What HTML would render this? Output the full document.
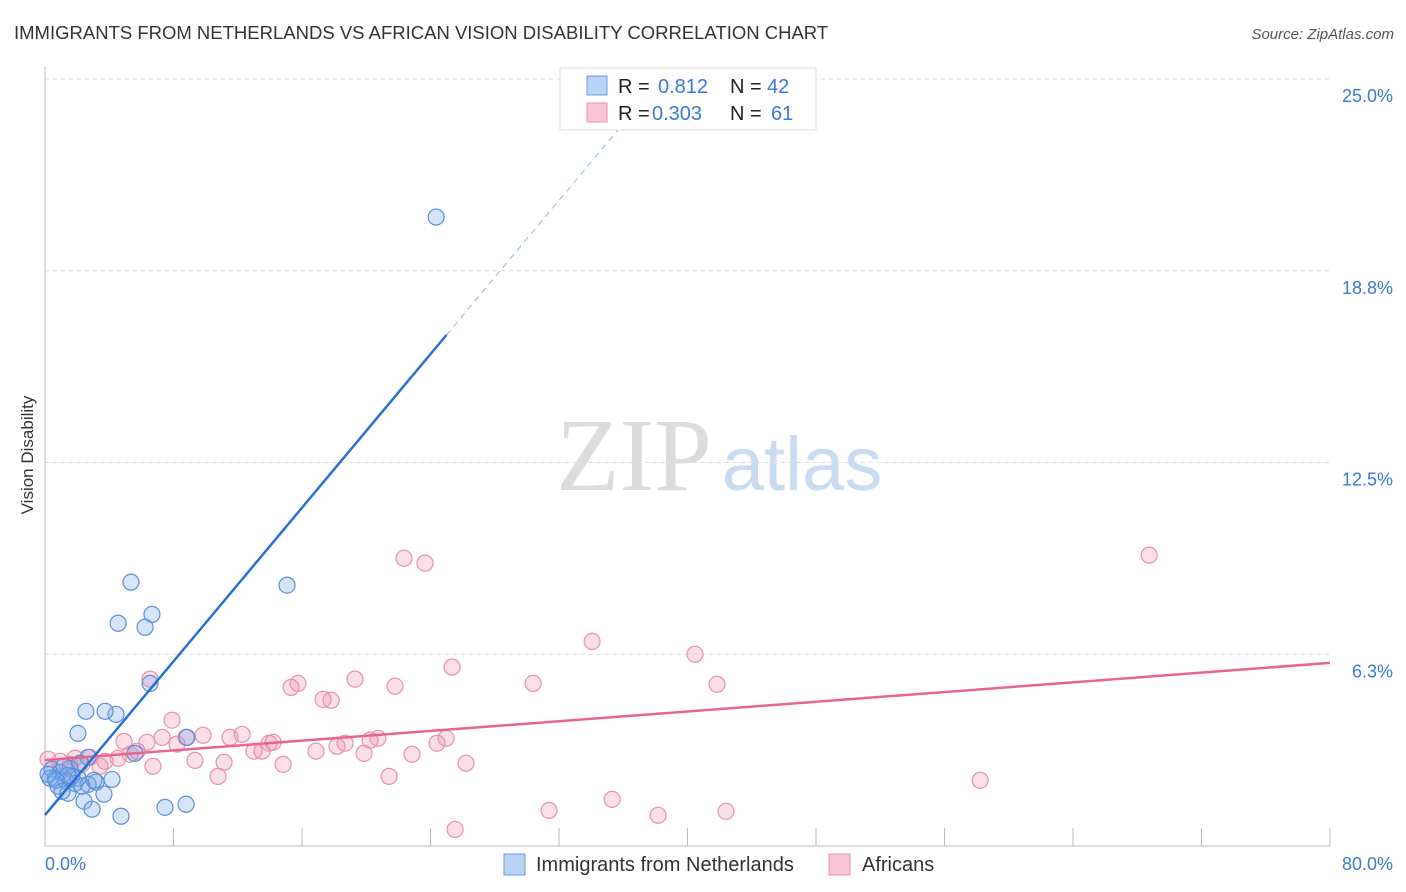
<!DOCTYPE html>
<html><head><meta charset="utf-8">
<style>
body{margin:0;background:#fff;font-family:"Liberation Sans",sans-serif;}
svg{display:block}
</style></head>
<body>
<svg id="chart" width="1406" height="892" xmlns="http://www.w3.org/2000/svg">
<text x="14" y="39" font-size="18.5" fill="#333">IMMIGRANTS FROM NETHERLANDS VS AFRICAN VISION DISABILITY CORRELATION CHART</text>
<text x="1394" y="39" font-size="15" fill="#555" font-style="italic" text-anchor="end">Source: ZipAtlas.com</text>
<text x="33" y="455" font-size="17" fill="#333" text-anchor="middle" transform="rotate(-90 33 455)">Vision Disability</text>
<g>
<text x="634" y="490" font-size="104" fill="#dcdcdc" font-family="Liberation Serif,serif" text-anchor="middle">ZIP</text>
<text x="802" y="490" font-size="76" fill="#cadcf2" text-anchor="middle">atlas</text>
</g>
<g id="grid"></g>
<g id="marks"></g>
<g>
<rect x="560" y="68" width="256" height="62" fill="#fff" stroke="#ddd"/>
<rect x="587" y="76" width="20" height="19" fill="#b9d3f5" stroke="#6a9be0"/>
<rect x="587" y="103" width="20" height="19" fill="#f9c6d6" stroke="#ec8fae"/>
<text x="618" y="93" font-size="20" fill="#222">R = </text><text x="658" y="93" font-size="20" fill="#3b78d8">0.812</text>
<text x="730" y="93" font-size="20" fill="#222">N = </text><text x="767" y="93" font-size="20" fill="#3b78d8">42</text>
<text x="618" y="120" font-size="20" fill="#222">R = </text><text x="652" y="120" font-size="20" fill="#3b78d8">0.303</text>
<text x="730" y="120" font-size="20" fill="#222">N = </text><text x="771" y="120" font-size="20" fill="#3b78d8">61</text>
</g>
<g>
<rect x="504" y="854" width="21" height="21" fill="#b9d3f5" stroke="#6a9be0"/>
<text x="536" y="871" font-size="20" fill="#333">Immigrants from Netherlands</text>
<rect x="829" y="854" width="21" height="21" fill="#f9c6d6" stroke="#ec8fae"/>
<text x="862" y="871" font-size="20" fill="#333">Africans</text>
</g>
</svg>
<script>
const yTicks=[6.25,12.5,18.75,25];
const yTickLabels=["6.3%","12.5%","18.8%","25.0%"];
const xTicks=[8,16,24,32,40,48,56,64,72,80];
const blueX=[24.35,5.35,15.07,6.66,4.55,6.23,6.54,2.55,4.42,3.74,2.05,8.84,5.6,2.68,0.44,0.93,1.56,2.18,0.62,1.31,1.87,0.31,0.81,3.18,4.17,2.68,1.43,3.67,2.43,2.93,4.73,7.47,8.78,1.18,1.68,0.19,1.06,3.05,2.05,0.68,1.43,2.3];
const blueY=[20.5,8.6,8.5,7.55,7.26,7.13,5.3,4.39,4.29,4.39,3.67,3.54,3.02,2.89,2.5,2.4,2.53,2.7,2.21,2.11,2.04,2.21,1.95,2.08,2.17,2.01,1.72,1.69,1.46,1.2,0.97,1.26,1.36,2.6,2.27,2.34,1.78,2.14,2.21,2.14,2.3,1.95];
const pinkX=[68.74,22.35,23.66,34.06,40.47,25.34,6.54,19.3,15.75,30.39,41.84,15.32,21.79,17.31,17.81,7.91,4.92,6.35,7.29,8.78,9.84,11.52,12.27,13.95,14.2,8.22,18.68,18.18,20.73,20.24,24.97,24.41,13.01,13.51,16.87,19.86,22.85,5.29,9.34,11.15,14.82,26.21,6.72,3.74,4.55,2.8,1.87,0.93,0.19,1.56,2.3,3.42,10.77,21.42,58.22,35.31,31.38,42.4,38.17,25.53,5.73];
const pinkY=[9.48,9.38,9.22,6.67,6.25,5.83,5.44,5.44,5.3,5.3,5.27,5.17,5.21,4.78,4.75,4.1,3.41,3.38,3.54,3.54,3.61,3.54,3.64,3.35,3.38,3.32,3.35,3.25,3.51,3.45,3.51,3.35,3.09,3.09,3.09,3.02,2.99,2.99,2.79,2.73,2.66,2.7,2.6,2.76,2.86,2.89,2.86,2.76,2.83,2.66,2.66,2.6,2.27,2.27,2.14,1.52,1.16,1.13,1.0,0.54,3.09];
const blueTrend=[1.01,0.626];
const pinkTrend=[2.8,0.0396];
const NS="http://www.w3.org/2000/svg";
const X=v=>45+v*(1285/80);
const Y=v=>846-v*(767/25);
function mk(tag,attrs,parent){const e=document.createElementNS(NS,tag);for(const k in attrs)e.setAttribute(k,attrs[k]);parent.appendChild(e);return e;}
const grid=document.getElementById('grid'),marks=document.getElementById('marks');
yTicks.forEach((t,i)=>{
 const l=mk('line',{x1:45,x2:1330,y1:Y(t),y2:Y(t),stroke:'#ddd','stroke-dasharray':'4,4'},grid);
 
 
 const tx=mk('text',{x:1393,y:Y(t)+23,'font-size':18,fill:'#3b78d8','text-anchor':'end'},grid);
 tx.textContent=yTickLabels[i];
 
 
});
xTicks.forEach(t=>{
 const l=mk('line',{x1:X(t),x2:X(t),y1:828,y2:846,stroke:'#bbb'},grid);
 
 
});
const ax=mk('path',{d:'M45 67V846H1330',fill:'none',stroke:'#bbb'},grid);


const x0=mk('text',{x:45,y:870,'font-size':18,fill:'#3b78d8'},grid);x0.textContent='0.0%';


const x1=mk('text',{x:1393,y:870,'font-size':18,fill:'#3b78d8','text-anchor':'end'},grid);x1.textContent='80.0%';


pinkX.forEach((v,i)=>{
 const c=mk('circle',{cx:X(v),cy:Y(pinkY[i]),r:8,fill:'rgba(242,150,180,0.3)',stroke:'#e890ae','stroke-width':1.2},marks);
 
 
});
blueX.forEach((v,i)=>{
 const c=mk('circle',{cx:X(v),cy:Y(blueY[i]),r:8,fill:'rgba(120,165,235,0.3)',stroke:'#5b8fd6','stroke-width':1.2},marks);
 
 
});
const pl=mk('line',{x1:X(0),y1:Y(pinkTrend[0]),x2:X(80),y2:Y(pinkTrend[0]+80*pinkTrend[1]),stroke:'#e8648f','stroke-width':2.5},marks);


const bl=mk('line',{x1:X(0),y1:Y(blueTrend[0]),x2:X(25),y2:Y(blueTrend[0]+25*blueTrend[1]),stroke:'#2a6fd6','stroke-width':2.5},marks);


const xe=(25-blueTrend[0])/blueTrend[1];
const bd=mk('line',{x1:X(25),y1:Y(blueTrend[0]+25*blueTrend[1]),x2:X(xe),y2:Y(25),stroke:'#8fb3e6','stroke-width':1,'stroke-dasharray':'6,5'},marks);


</script>
</body></html>
